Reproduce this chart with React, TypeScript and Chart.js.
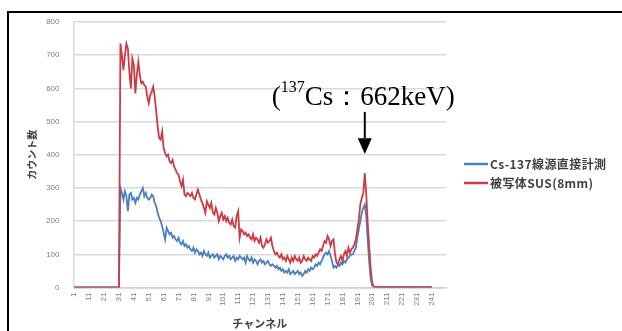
import React, { useEffect, useRef } from 'react';
import { Chart, registerables } from 'chart.js';

Chart.register(...registerables);

// Channel numbers on the category axis (1..250)
const channels: string[] = Array.from({ length: 250 }, (_, i) => String(i + 1));

const seriesNames = ['Cs-137線源直接計測', '被写体SUS(8mm)'];

// Counts per channel (channels 1..241)
const directCounts = [
  0, 0, 0, 0, 0, 0, 0, 0, 0, 0,
  0, 0, 0, 0, 0, 0, 0, 0, 0, 0,
  0, 0, 0, 0, 0, 0, 0, 0, 0, 0,
  0, 300, 285, 265, 290, 275, 230, 280, 285, 265,
  270, 255, 270, 265, 280, 290, 300, 275, 285, 270,
  265, 270, 280, 275, 255, 245, 225, 210, 200, 185,
  165, 145, 180, 170, 160, 165, 150, 155, 145, 140,
  150, 135, 130, 140, 125, 130, 120, 125, 115, 110,
  120, 105, 115, 110, 100, 105, 95, 110, 100, 95,
  105, 90, 95, 100, 90, 95, 100, 85, 95, 90,
  85, 95, 100, 90, 95, 85, 90, 95, 80, 90,
  85, 95, 90, 85, 90, 75, 95, 85, 80, 90,
  75, 85, 80, 70, 80, 85, 75, 80, 70, 75,
  80, 70, 65, 70, 65, 60, 65, 55, 60, 50,
  55, 45, 50, 45, 55, 40, 45, 50, 40, 45,
  50, 40, 45, 35, 40, 50, 45, 55, 50, 60,
  55, 60, 70, 65, 75, 70, 80, 90, 100, 105,
  100, 110, 95, 80, 60, 65, 60, 70, 65, 75,
  70, 80, 75, 85, 90, 95, 100, 100, 110, 120,
  150, 175, 200, 225, 240, 250, 215, 140, 75, 25,
  6, 2, 1, 1, 1, 1, 1, 1, 1, 1,
  1, 1, 1, 1, 1, 1, 1, 1, 1, 1,
  1, 1, 1, 1, 1, 1, 1, 1, 1, 1,
  1, 1, 1, 1, 1, 1, 1, 1, 1, 1,
  0,
];

const susCounts = [
  0, 0, 0, 0, 0, 0, 0, 0, 0, 0,
  0, 0, 0, 0, 0, 0, 0, 0, 0, 0,
  0, 0, 0, 0, 0, 0, 0, 0, 0, 0,
  0, 735, 700, 655, 700, 735, 720, 650, 600, 690,
  670, 585, 640, 680, 640, 615, 620, 610, 605, 575,
  555, 580, 590, 605, 575, 530, 485, 450, 445, 470,
  420, 405, 395, 400, 380, 375, 385, 365, 355, 345,
  340, 320, 305, 325, 280, 275, 285, 280, 275, 285,
  270, 265, 280, 295, 280, 265, 255, 240, 225, 260,
  250, 240, 255, 225, 220, 240, 225, 200, 215, 225,
  205, 215, 200, 210, 195, 190, 205, 185, 180, 215,
  230, 150, 175, 170, 160, 165, 155, 160, 150, 145,
  160, 140, 150, 145, 135, 150, 125, 120, 130, 145,
  135, 140, 150, 125, 110, 100, 105, 95, 90, 100,
  85, 90, 80, 95, 85, 75, 90, 80, 95, 85,
  80, 90, 75, 80, 95, 85, 80, 90, 85, 80,
  95, 90, 100, 95, 105, 115, 110, 125, 140, 135,
  155, 145, 125, 140, 145, 100, 75, 70, 85, 95,
  80, 100, 110, 95, 120, 105, 115, 120, 130, 145,
  175, 205, 250, 270, 285, 345, 280, 190, 120, 55,
  12, 3, 2, 1, 1, 2, 1, 1, 1, 2,
  1, 1, 2, 1, 1, 1, 2, 1, 1, 1,
  1, 2, 1, 1, 1, 1, 1, 2, 1, 1,
  1, 1, 1, 1, 1, 1, 1, 1, 1, 1,
  0,
];

const yTicks = { min: 0, max: 800, step: 100 };

// Annotation: peak channel index and label
const peakIndex = 195; // channel 196
const annotation = { open: '(', sup: '137', rest: 'Cs：662keV)' };

const BLUE = '#4a7fc1';
const RED = '#cd3b45';

export default function App() {
  const canvasRef = useRef<HTMLCanvasElement | null>(null);

  useEffect(() => {
    const canvas = canvasRef.current;
    if (!canvas) return;

    const extras = {
      id: 'extras',
      afterDraw(chart: any) {
        const { ctx, chartArea } = chart;
        const xs = chart.scales.x;
        const ys = chart.scales.y;
        ctx.save();

        // ---- legend ----
        const lx = chartArea.right + 18;
        const rows = [
          { y: chartArea.top + 142, color: BLUE, text: seriesNames[0] },
          { y: chartArea.top + 161, color: RED, text: seriesNames[1] },
        ];
        for (const r of rows) {
          ctx.strokeStyle = r.color;
          ctx.lineWidth = 2.5;
          ctx.beginPath();
          ctx.moveTo(lx, r.y);
          ctx.lineTo(lx + 24, r.y);
          ctx.stroke();
          ctx.fillStyle = '#404040';
          ctx.font = 'bold 12px "Noto Sans CJK JP", sans-serif';
          (ctx as any).letterSpacing = '0.4px';
          ctx.textBaseline = 'middle';
          ctx.textAlign = 'left';
          ctx.fillText(r.text, lx + 26, r.y);
        }
        (ctx as any).letterSpacing = '0px';

        // ---- annotation arrow ----
        const ax = xs.getPixelForValue(peakIndex);
        const yTop = ys.getPixelForValue(529);
        const yBase = ys.getPixelForValue(450);
        const yTip = ys.getPixelForValue(402);
        ctx.strokeStyle = '#000';
        ctx.fillStyle = '#000';
        ctx.lineWidth = 2;
        ctx.beginPath();
        ctx.moveTo(ax, yTop);
        ctx.lineTo(ax, yBase);
        ctx.stroke();
        ctx.beginPath();
        ctx.moveTo(ax - 7, yBase);
        ctx.lineTo(ax + 7, yBase);
        ctx.lineTo(ax, yTip);
        ctx.closePath();
        ctx.fill();

        // ---- annotation text ----
        const baseY = ys.getPixelForValue(550);
        const supY = ys.getPixelForValue(590);
        let tx = ax - 93;
        ctx.textBaseline = 'alphabetic';
        ctx.textAlign = 'left';
        ctx.font = '27px "Liberation Serif", "Times New Roman", serif';
        ctx.fillText(annotation.open, tx, baseY);
        tx += ctx.measureText(annotation.open).width;
        ctx.font = '16px "Liberation Serif", "Times New Roman", serif';
        ctx.fillText(annotation.sup, tx, supY);
        tx += ctx.measureText(annotation.sup).width;
        ctx.font = '27px "Liberation Serif", "Times New Roman", serif';
        ctx.fillText(annotation.rest, tx, baseY);

        ctx.restore();
      },
    };

    const chart = new Chart(canvas, {
      type: 'line',
      data: {
        labels: channels,
        datasets: [
          {
            label: seriesNames[0],
            data: directCounts,
            borderColor: BLUE,
            backgroundColor: BLUE,
            borderWidth: 1.8,
            pointRadius: 0,
            tension: 0,
            order: 1,
          },
          {
            label: seriesNames[1],
            data: susCounts,
            borderColor: RED,
            backgroundColor: RED,
            borderWidth: 1.8,
            pointRadius: 0,
            tension: 0,
            order: 0,
          },
        ],
      },
      options: {
        responsive: false,
        animation: false,
        devicePixelRatio: 1,
        layout: { padding: { left: 26, top: 22, right: 176, bottom: 0 } },
        plugins: {
          legend: { display: false },
          tooltip: { enabled: false },
        },
        scales: {
          x: {
            type: 'category',
            offset: true,
            grid: { display: false, drawTicks: false },
            border: { display: true, color: '#d0d0d0', width: 1.5 },
            ticks: {
              autoSkip: false,
              maxRotation: 90,
              minRotation: 90,
              padding: 5,
              color: '#7f7f7f',
              font: { size: 8, family: '"Liberation Sans", Arial, sans-serif' },
              callback: (_v: any, i: number) => (i % 10 === 0 ? channels[i] : ''),
            },
            title: {
              display: true,
              text: 'チャンネル',
              color: '#404040',
              font: { size: 11, weight: 'bold', family: '"Noto Sans CJK JP", sans-serif' },
              padding: { top: 0, bottom: 1 },
            },
            afterFit: (s: any) => {
              s.height = 43.5;
            },
          },
          y: {
            min: yTicks.min,
            max: yTicks.max,
            grid: { color: '#d9d9d9', lineWidth: 1.5, drawTicks: false },
            border: { display: true, color: '#d9d9d9', width: 1.5 },
            ticks: {
              stepSize: yTicks.step,
              padding: 14,
              color: '#7f7f7f',
              font: { size: 8, family: '"Liberation Sans", Arial, sans-serif' },
            },
            title: {
              display: true,
              text: 'カウント数',
              color: '#404040',
              font: { size: 10, weight: 'bold', family: '"Noto Sans CJK JP", sans-serif' },
              padding: { top: 0, bottom: 0 },
            },
            afterFit: (s: any) => {
              s.width = 47.5;
            },
          },
        },
      },
      plugins: [extras],
    } as any);

    return () => chart.destroy();
  }, []);

  return (
    <div
      style={{
        position: 'fixed',
        left: 0,
        top: 0,
        width: 622,
        height: 331,
        background: '#fff',
        overflow: 'hidden',
      }}
    >
      <div
        style={{
          position: 'absolute',
          left: 7,
          top: 11,
          width: 700,
          height: 400,
          border: '2px solid #000',
          boxSizing: 'border-box',
        }}
      />
      <canvas
        ref={canvasRef}
        width={622}
        height={331}
        style={{ position: 'absolute', left: 0, top: 0, width: 622, height: 331 }}
      />
    </div>
  );
}
